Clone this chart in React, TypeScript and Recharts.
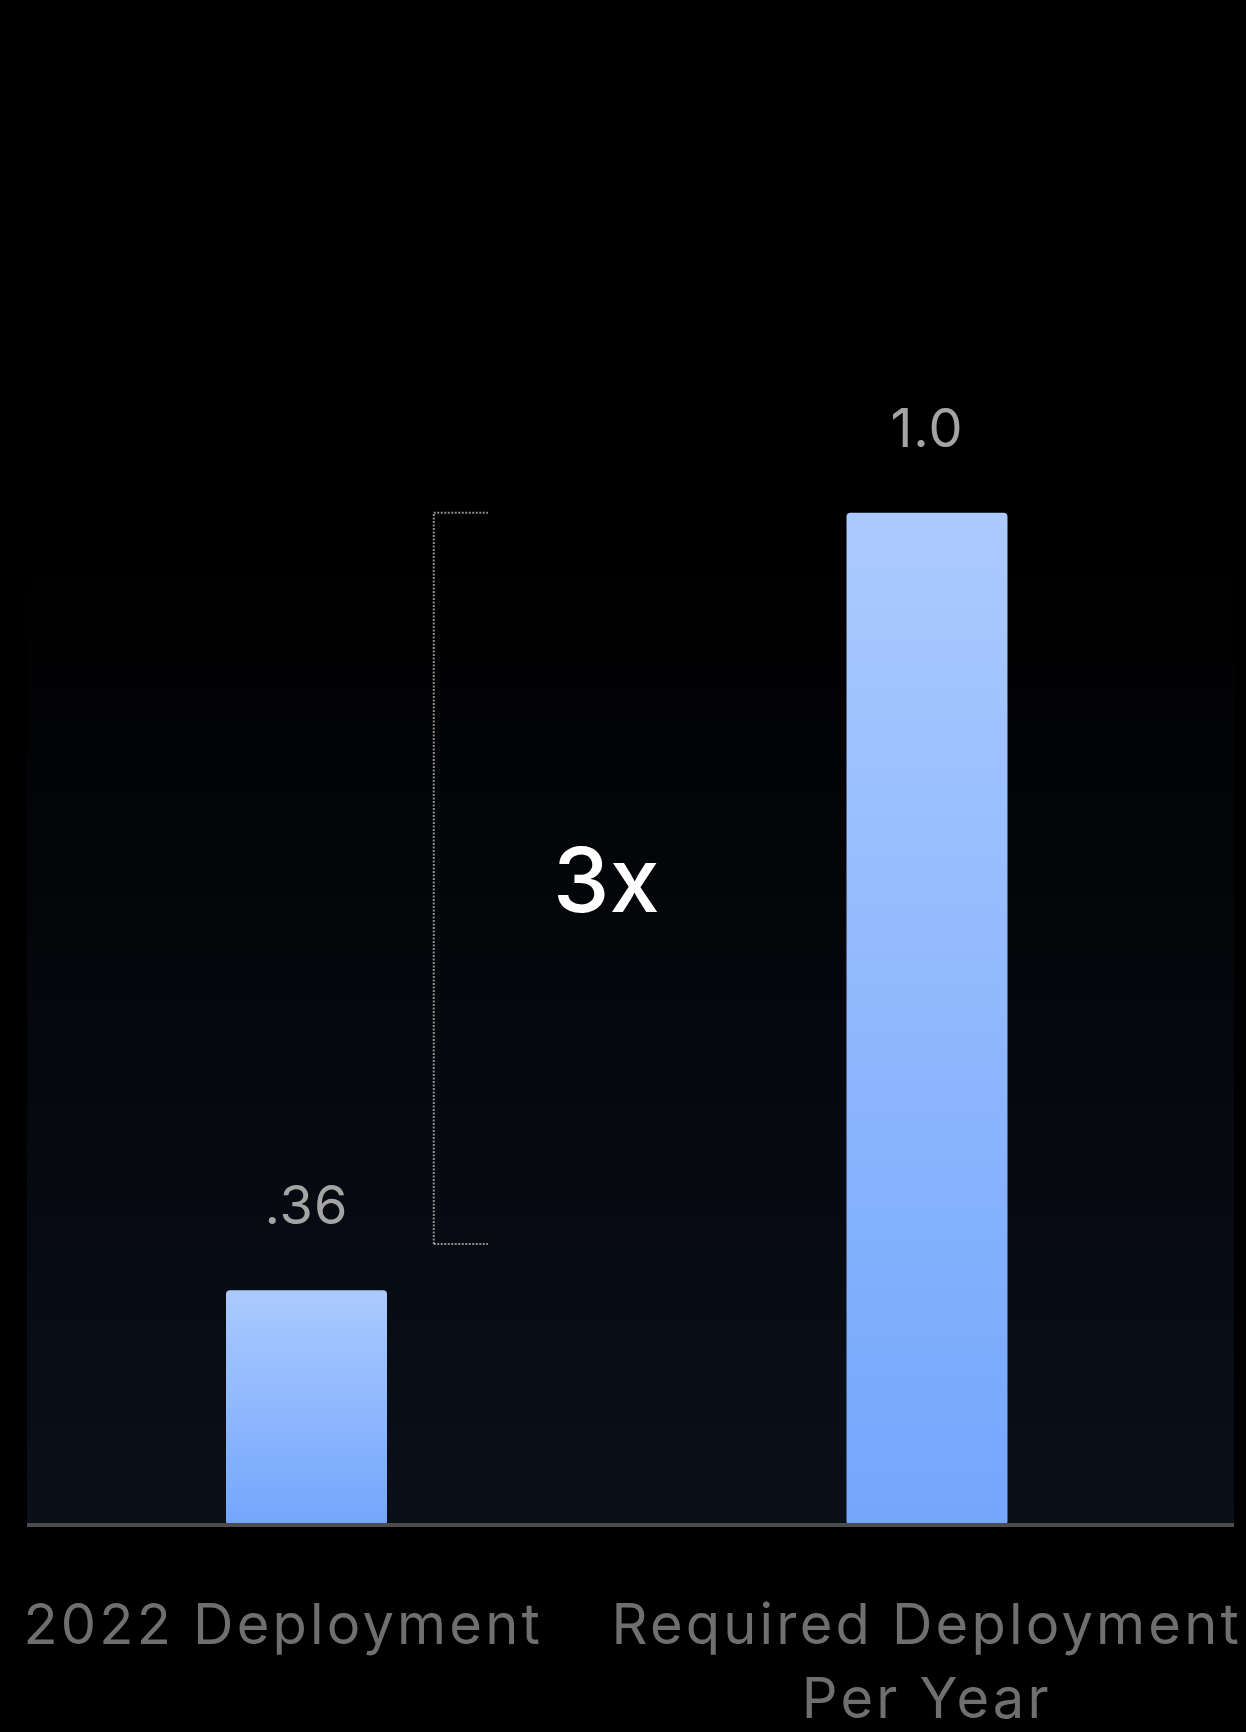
import {
  Bar,
  BarChart,
  CartesianGrid,
  LabelList,
  ReferenceLine,
  XAxis,
  YAxis,
} from "recharts";

const categories = ["2022 Deployment", "Required Deployment\nPer Year"];
const deployment = [0.36, 1.0];
const valueLabels = [".36", "1.0"];

// slide is not drawn to scale: bars sit on a baseline of 1/6
const yDomain = [1 / 6, 1.4];

// bracket + "3x" callout, x in 0..1 of the plot width
const bracketX = [0.337, 0.382];
const bracketY = [0.398, 1.0];
const calloutX = 0.48;
const calloutY = 0.698;
const calloutText = "3x";

const data = categories.map((c, i) => ({
  name: c,
  value: deployment[i],
  label: valueLabels[i],
}));

const FONT = "Inter, 'Noto Sans', sans-serif";
const tickShift = [-23, 0];

function CategoryTick(props: any) {
  const { x, y, payload, index } = props;
  const lines = String(payload.value).split("\n");
  const cx = x + (tickShift[index] ?? 0);
  return (
    <text
      x={cx}
      y={y}
      textAnchor="middle"
      fill="#6f6f6f"
      fontSize={56}
      fontFamily={FONT}
      letterSpacing={3.2}
    >
      {lines.map((l, i) => (
        <tspan key={i} x={cx} dy={i === 0 ? 111 : 74}>
          {l}
        </tspan>
      ))}
    </text>
  );
}

const bracketStyle = {
  stroke: "#8f8f8f",
  strokeWidth: 2,
  strokeDasharray: "2 1.5",
};

export default function App() {
  return (
    <div style={{ position: "absolute", left: 0, top: 0, width: 1246, height: 1732, background: "#000" }}>
      <BarChart
        width={1246}
        height={1732}
        data={data}
        margin={{ top: 27, right: 12, left: 27, bottom: 177 }}
      >
        <defs>
          <linearGradient id="barGrad" x1="0" y1="0" x2="0" y2="1">
            <stop offset="0%" stopColor="#abcaff" />
            <stop offset="100%" stopColor="#73a6fc" />
          </linearGradient>
          <linearGradient id="bgGrad" x1="0" y1="0" x2="0" y2="1">
            <stop offset="0%" stopColor="#000000" />
            <stop offset="35%" stopColor="#000000" />
            <stop offset="100%" stopColor="#0a0f1a" />
          </linearGradient>
        </defs>
        <CartesianGrid horizontal={false} vertical={false} fill="url(#bgGrad)" />
        <XAxis
          xAxisId="cat"
          dataKey="name"
          height={30}
          padding={{ left: -31, right: -3 }}
          axisLine={{ stroke: "#4d4d4d", strokeWidth: 4 }}
          tickLine={false}
          tick={<CategoryTick />}
          interval={0}
        />
        <XAxis xAxisId="ann" type="number" domain={[0, 1]} height={0} hide />
        <YAxis hide type="number" domain={yDomain} width={0} />
        <Bar
          xAxisId="cat"
          dataKey="value"
          barSize={161}
          fill="url(#barGrad)"
          radius={[4, 4, 4, 4]}
          isAnimationActive={false}
        >
          <LabelList
            dataKey="label"
            position="top"
            offset={66}
            fill="#a4a4a4"
            fontSize={54}
            fontFamily={FONT}
            letterSpacing={1}
          />
        </Bar>
        <ReferenceLine
          xAxisId="ann"
          segment={[
            { x: bracketX[0], y: bracketY[0] },
            { x: bracketX[0], y: bracketY[1] },
          ]}
          {...bracketStyle}
        />
        <ReferenceLine
          xAxisId="ann"
          segment={[
            { x: bracketX[0], y: bracketY[1] },
            { x: bracketX[1], y: bracketY[1] },
          ]}
          {...bracketStyle}
        />
        <ReferenceLine
          xAxisId="ann"
          segment={[
            { x: bracketX[0], y: bracketY[0] },
            { x: bracketX[1], y: bracketY[0] },
          ]}
          {...bracketStyle}
        />
        <ReferenceLine
          xAxisId="ann"
          segment={[
            { x: calloutX - 0.01, y: calloutY },
            { x: calloutX + 0.01, y: calloutY },
          ]}
          stroke="none"
          label={{
            value: calloutText,
            position: "center",
            fill: "#ffffff",
            fontSize: 90,
            fontWeight: 500,
            fontFamily: FONT,
          }}
        />
      </BarChart>
    </div>
  );
}
